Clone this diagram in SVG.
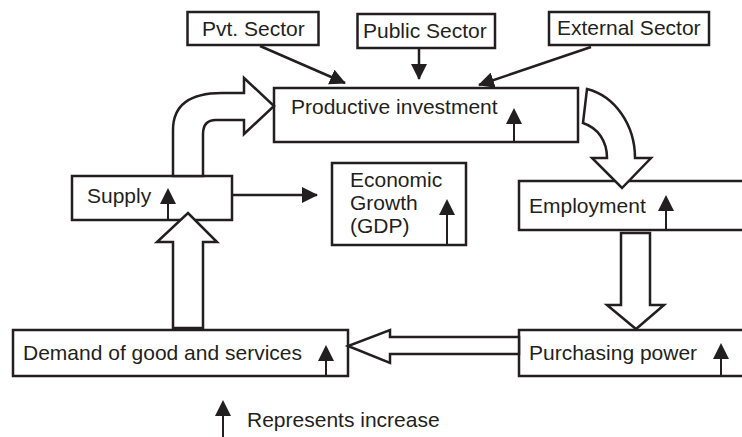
<svg xmlns="http://www.w3.org/2000/svg" width="742" height="437" viewBox="0 0 742 437">
<defs>
<style>
.box{fill:#fff;stroke:#231f20;stroke-width:2.5}
.t{font-family:"Liberation Sans",Arial,sans-serif;font-size:21px;fill:#231f20}
.blk{fill:#fff;stroke:#231f20;stroke-width:2.5;stroke-linejoin:miter}
.ln{fill:none;stroke:#231f20;stroke-width:2.5}
.inc{fill:none;stroke:#231f20;stroke-width:2}
.head{fill:#231f20}
</style>
<marker id="ah" viewBox="0 0 16 16" refX="15" refY="8" markerWidth="6.4" markerHeight="6.4" orient="auto" markerUnits="strokeWidth">
<path d="M0,0 L16,8 L0,16 Z" fill="#231f20"/>
</marker>
</defs>
<rect width="742" height="437" fill="#fff"/>

<g id="pvt-sector"><rect class="box" x="187.5" y="12" width="131" height="33"/><text class="t" x="202" y="36">Pvt. Sector</text></g>
<g id="public-sector"><rect class="box" x="357.5" y="14" width="137.5" height="34"/><text class="t" x="363" y="38">Public Sector</text></g>
<g id="external-sector"><rect class="box" x="549" y="12" width="160" height="33"/><text class="t" x="557" y="35">External Sector</text></g>
<g id="productive-investment"><rect class="box" x="274" y="88" width="304" height="54"/><text class="t" x="291" y="114">Productive investment</text>
<line class="inc" x1="514" y1="142" x2="514" y2="122"/><path class="head" d="M514,108 L522,124 L506,124 Z"/></g>
<g id="supply"><rect class="box" x="72" y="176" width="160" height="44"/><text class="t" x="87" y="203">Supply</text>
<line class="inc" x1="168" y1="220" x2="168" y2="200"/><path class="head" d="M168,188 L176,204 L160,204 Z"/></g>
<g id="economic-growth"><rect class="box" x="332" y="163" width="134" height="82"/>
<text class="t" x="350" y="187">Economic</text><text class="t" x="350" y="210">Growth</text><text class="t" x="350" y="233">(GDP)</text>
<line class="inc" x1="447" y1="245" x2="447" y2="212"/><path class="head" d="M447,199 L455,215 L439,215 Z"/></g>
<g id="employment"><rect class="box" x="519" y="181" width="240" height="49"/><text class="t" x="529" y="213">Employment</text>
<line class="inc" x1="666" y1="230" x2="666" y2="208"/><path class="head" d="M666,195 L674,211 L658,211 Z"/></g>
<g id="demand"><rect class="box" x="13" y="330" width="335" height="46"/><text class="t" x="23" y="360">Demand of good and services</text>
<line class="inc" x1="326" y1="376" x2="326" y2="358"/><path class="head" d="M326,345 L334,361 L318,361 Z"/></g>
<g id="purchasing-power"><rect class="box" x="519" y="330" width="240" height="46"/><text class="t" x="529" y="360">Purchasing power</text>
<line class="inc" x1="721" y1="376" x2="721" y2="356"/><path class="head" d="M721,343 L729,359 L713,359 Z"/></g>

<g id="connectors">
<line class="ln" x1="260" y1="46" x2="345" y2="83" marker-end="url(#ah)"/>
<line class="ln" x1="419" y1="48" x2="419" y2="79" marker-end="url(#ah)"/>
<line class="ln" x1="591" y1="47" x2="479" y2="85" marker-end="url(#ah)"/>
<line class="ln" x1="232" y1="195" x2="317" y2="195" marker-end="url(#ah)"/>
<path class="blk" d="M173,176 V130 C173,105 190,93 222,93 H244 V78 L274,106 L244,134 V120 H216 C207,120 203,125 203,134 V176 Z"/>
<path class="blk" d="M587,89 C615,96 635,125 635,158 H651 L622,188 L592,158 H607 C607,141 598,128 583,123 Z"/>
<path class="blk" d="M621,233 V305 H607 L636,329 L664,305 H650 V233 Z"/>
<path class="blk" d="M519,337 H390 V330 L348,346 L390,363 V354 H519 Z"/>
<path class="blk" d="M173,328 V242 H157 L188,213 L217,242 H203 V328 Z"/>
</g>

<g id="legend">
<line class="inc" x1="223" y1="437" x2="223" y2="412"/><path class="head" d="M223,400 L231,416 L215,416 Z"/>
<text class="t" x="247" y="427">Represents increase</text>
</g>
</svg>
